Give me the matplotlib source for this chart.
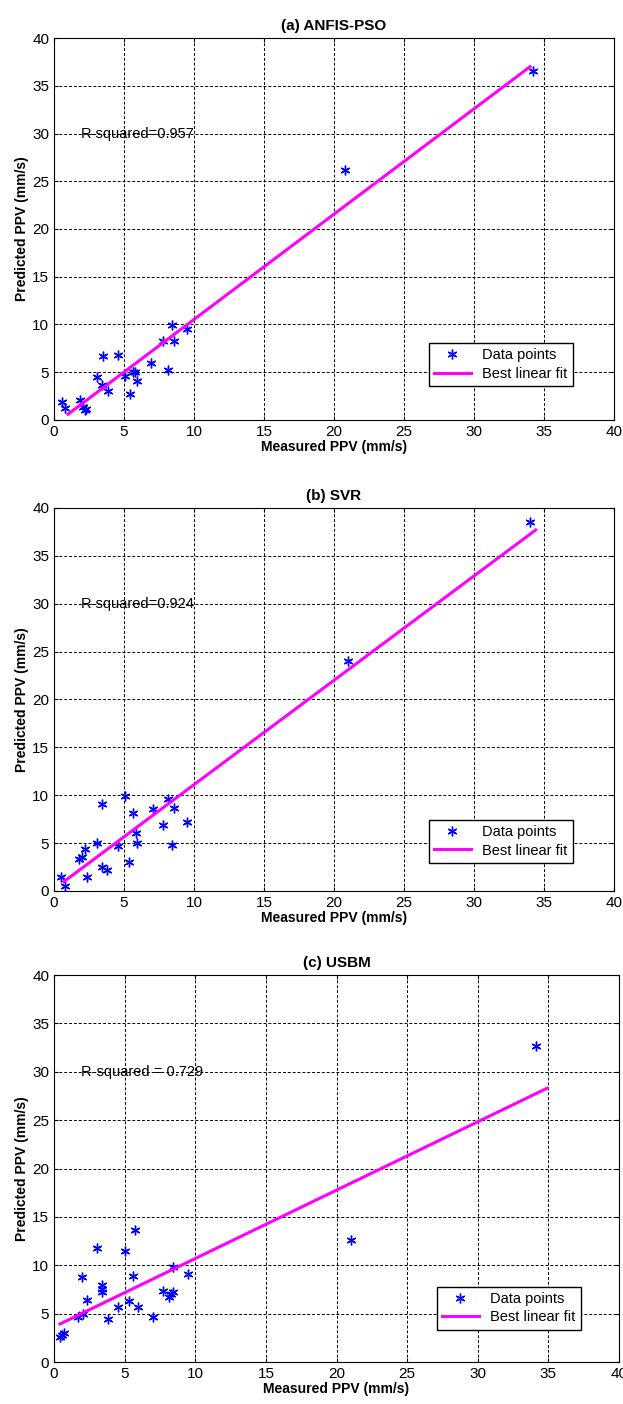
import matplotlib.pyplot as plt
import numpy as np

plt.rcParams['font.family'] = ['Liberation Sans', 'DejaVu Sans']

# (a) ANFIS-PSO
meas_a = [0.57, 0.81, 1.83, 2.1, 2.3, 2.2, 3.09, 3.45, 3.86, 3.5, 4.57, 5.04, 5.4, 5.64,
          5.8, 5.95, 6.95, 7.79, 8.14, 8.43, 8.57, 9.52, 20.8, 34.2]
pred_a = [1.92, 1.26, 2.13, 1.4, 1.1, 1.0, 4.54, 3.67, 3.07, 6.74, 6.81, 4.64, 2.72, 4.99,
          4.99, 4.12, 5.93, 8.24, 5.24, 9.96, 8.31, 9.5, 26.2, 36.6]
fit_a_x = [1.0, 34.0]
fit_a_y = [0.6, 37.0]

# (b) SVR
meas_b = [0.52, 0.75, 2.39, 1.82, 1.99, 2.22, 3.05, 3.45, 3.45, 3.81, 4.59, 5.07, 5.37,
          5.61, 5.85, 5.94, 7.04, 7.79, 8.15, 8.43, 8.55, 9.52, 21.0, 34.0]
pred_b = [1.43, 0.55, 1.43, 3.31, 3.58, 4.39, 4.98, 9.09, 2.54, 2.19, 4.7, 9.9, 3.0,
          8.1, 6.09, 5.04, 8.55, 6.89, 9.58, 4.8, 8.64, 7.18, 24.0, 38.5]
fit_b_x = [0.7, 34.4]
fit_b_y = [0.97, 37.7]

# (c) USBM
meas_c = [0.42, 0.55, 0.71, 1.72, 2.08, 2.31, 2.0, 3.02, 3.38, 3.38, 3.38, 3.8, 4.51, 5.03,
          5.33, 5.57, 5.74, 5.93, 6.99, 7.74, 8.14, 8.26, 8.41, 8.45, 9.51, 21.0, 34.1]
pred_c = [2.55, 2.8, 3.03, 4.69, 4.96, 6.41, 8.76, 11.76, 7.96, 7.6, 7.27, 4.45, 5.65, 11.5,
          6.31, 8.89, 13.65, 5.72, 4.69, 7.34, 6.76, 7.03, 7.27, 9.86, 9.07, 12.6, 32.7]
fit_c_x = [0.42, 34.9]
fit_c_y = [3.93, 28.3]

panels = [
    ('(a) ANFIS-PSO', meas_a, pred_a, fit_a_x, fit_a_y, 'R-squared=0.957',
     [0.0867, 0.7009, 0.899, 0.272], (0.939, 0.07)),
    ('(b) SVR', meas_b, pred_b, fit_b_x, fit_b_y, 'R-squared=0.924',
     [0.0867, 0.3654, 0.899, 0.2728], (0.939, 0.055)),
    ('(c) USBM', meas_c, pred_c, fit_c_x, fit_c_y, 'R-squared = 0.729',
     [0.0867, 0.0299, 0.907, 0.2756], (0.945, 0.065)),
]

fig = plt.figure(figsize=(6.23, 14.04), dpi=100)

for title, mx, py, fx, fy, rtxt, pos, leg_anchor in panels:
    ax = fig.add_axes(pos)
    # MATLAB-style asterisk marker
    ax.plot(mx, py, linestyle='none', marker=(6, 2, 0), color='#0000ff',
            markersize=7, markeredgewidth=1.0, label='Data points')
    ax.plot(fx, fy, '-', color='#ff00ff', linewidth=2.2, label='Best linear fit')
    ax.set_xlim(0, 40)
    ax.set_ylim(0, 40)
    ax.set_xticks(np.arange(0, 41, 5))
    ax.set_yticks(np.arange(0, 41, 5))
    ax.tick_params(direction='in', top=True, right=True, labelsize=11, length=3)
    ax.grid(True, color='black', linestyle=(0, (3, 2)), linewidth=0.7)
    ax.set_axisbelow(True)
    ax.set_title(title, fontsize=11, fontweight='bold', pad=6)
    ax.set_xlabel('Measured PPV (mm/s)', fontsize=10, fontweight='bold', labelpad=1)
    ax.set_ylabel('Predicted PPV (mm/s)', fontsize=10, fontweight='bold', labelpad=2)
    ax.text(1.9, 30, rtxt, fontsize=10.5, va='center')
    leg = ax.legend(loc='lower right', bbox_to_anchor=leg_anchor, fontsize=10.5,
                    fancybox=False, framealpha=1, edgecolor='black', numpoints=1,
                    borderpad=0.35, handlelength=2.5, labelspacing=0.3)
    leg.get_frame().set_linewidth(1.0)

fig.savefig('out.png', dpi=100)
